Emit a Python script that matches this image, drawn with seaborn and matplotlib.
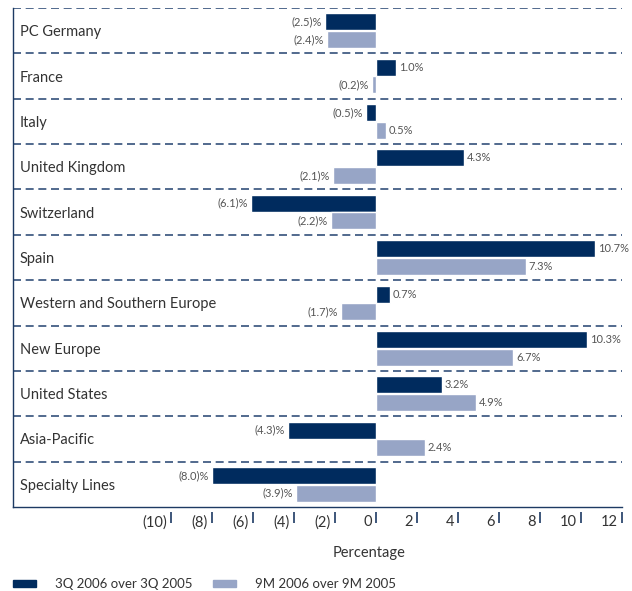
import pandas as pd
import numpy as np
import matplotlib; matplotlib.use('Agg')
import matplotlib.pyplot as plt
import matplotlib.patches as mpatches
import matplotlib.transforms as mtransforms
import seaborn as sns

sns.set_theme(style='white')
plt.rcParams['font.family'] = ['Lato', 'DejaVu Sans']

# ── data ──────────────────────────────────────────────────────────────
regions = ['PC Germany', 'France', 'Italy', 'United Kingdom', 'Switzerland', 'Spain',
           'Western and Southern Europe', 'New Europe', 'United States',
           'Asia-Pacific', 'Specialty Lines']
q3_growth = [-2.5, 1.0, -0.5, 4.3, -6.1, 10.7, 0.7, 10.3, 3.2, -4.3, -8.0]
m9_growth = [-2.4, -0.2, 0.5, -2.1, -2.2, 7.3, -1.7, 6.7, 4.9, 2.4, -3.9]
series = ['3Q 2006 over 3Q 2005', '9M 2006 over 9M 2005']
xticks = [-10, -8, -6, -4, -2, 0, 2, 4, 6, 8, 10, 12]
xtick_labels = ['(10)', '(8)', '(6)', '(4)', '(2)', '0', '2', '4', '6', '8', '10', '12']

DARK, LIGHT = '#002b5e', '#97a5c6'
NAVY = '#1d3a63'

df = pd.DataFrame({
    'region': regions * 2,
    'value': q3_growth + m9_growth,
    'period': [series[0]] * len(regions) + [series[1]] * len(regions),
})

fig = plt.figure(figsize=(6.32, 5.91), dpi=100)
ax = fig.add_axes([13/632, 84/591, 609/632, 499/591])

sns.barplot(data=df, x='value', y='region', hue='period', orient='h',
            palette=[DARK, LIGHT], saturation=1, width=0.78, gap=0.04,
            legend=False, ax=ax)

def fmt(v):
    return f'({abs(v):.1f})%' if v < 0 else f'{v:.1f}%'

for cont, vals in zip(ax.containers, [q3_growth, m9_growth]):
    ax.bar_label(cont, labels=[fmt(v) for v in vals], padding=2,
                 fontsize=8, color='#555555')

ax.set_xlim(-17.7, 12)
ax.set_ylim(10.5, -0.5)

# dashed separators
for y in np.arange(-0.5, 10, 1):
    ax.axhline(y, color='#34507a', lw=1.2, ls=(0, (4.8, 2.8)), zorder=0)

# frame: left + bottom only
for side in ['top', 'right']:
    ax.spines[side].set_visible(False)
for side in ['left', 'bottom']:
    ax.spines[side].set_color(NAVY)
    ax.spines[side].set_linewidth(1.0)

# category labels inside the axes
ax.set_ylabel('')
ax.tick_params(axis='y', length=0, pad=-5, labelsize=10.5, labelcolor='#333333')
for lbl in ax.get_yticklabels():
    lbl.set_ha('left')

# x ticks: label left of a short detached mark
ax.set_xticks(xticks)
ax.set_xticklabels(xtick_labels)
ax.set_xlabel('')
ax.tick_params(axis='x', length=0, pad=6, labelsize=10.5, labelcolor='#333333')
offset = mtransforms.ScaledTranslation(-0.04, 0, fig.dpi_scale_trans)
for lbl in ax.get_xticklabels():
    lbl.set_ha('right')
    lbl.set_transform(lbl.get_transform() + offset)
ax.vlines(xticks, -0.010, -0.033, transform=ax.get_xaxis_transform(),
          color=NAVY, lw=1.2, clip_on=False)

fig.text(369/632, 1 - 553/591, 'Percentage', ha='center', va='center',
         fontsize=10.5, color='#333333')

handles = [mpatches.Patch(color=DARK, label=series[0]),
           mpatches.Patch(color=LIGHT, label=series[1])]
fig.legend(handles=handles, loc='center left', bbox_to_anchor=(13/632, 1 - 584/591),
           ncol=2, frameon=False, fontsize=9.5, borderpad=0, borderaxespad=0,
           handlelength=1.75, handleheight=0.38, handletextpad=1.4, columnspacing=1.6,
           labelcolor='#333333')

plt.savefig('out.png', dpi=100)
plt.close()
